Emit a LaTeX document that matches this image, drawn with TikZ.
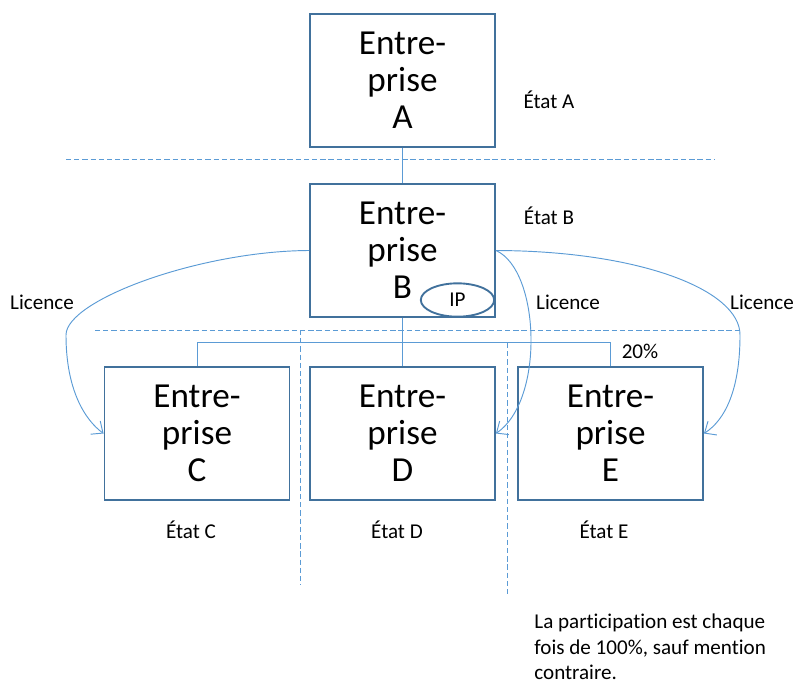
\documentclass[tikz,border=0pt]{standalone}
\usepackage{fontspec}
\setmainfont{Carlito}[Ligatures=NoCommon]
\definecolor{boxBlue}{RGB}{65, 113, 156}
\definecolor{lineBlue}{RGB}{91, 155, 213}
\usepackage{tikz}
\usetikzlibrary{shapes,arrows,positioning,calc,shapes.geometric,arrows.meta}

\begin{document}
\begin{tikzpicture}[
                x=0.03cm,y=-0.03cm,
                firm/.style={draw=boxBlue,line width=1.6pt,minimum width=5.55cm,minimum height=3.99cm,
                           font=\fontsize{30}{31.5}\selectfont,align=center,inner sep=0pt},
                etat/.style={font=\fontsize{18}{21.5}\selectfont,inner sep=1pt},
                link/.style={draw=lineBlue,line width=0.8pt},
                licence/.style={draw=lineBlue,line width=0.8pt,-{Straight Barb[length=8pt,width=14pt]}},
                sep/.style={draw=lineBlue,line width=0.8pt,dash pattern=on 4.5pt off 2.5pt}
            ]
                \useasboundingbox (0,0) rectangle (795,684);
                % borders between states
                \draw[sep] (66,159) -- (714,159);
                \draw[sep] (95,330) -- (740,330);
                \draw[sep] (300,330) -- (300,585);
                \draw[sep] (507,343) -- (507,597);
                % companies
                \node[firm] (A) at (402.5,80.5) {Entre-\\prise\\A};
                \node[firm] (B) at (402.5,250.5) {Entre-\\prise\\B};
                \node[firm] (C) at (197,433.5) {Entre-\\prise\\C};
                \node[firm] (D) at (402.5,433.5) {Entre-\\prise\\D};
                \node[firm] (E) at (610.5,433.5) {Entre-\\prise\\E};
                \node[ellipse,draw=boxBlue,line width=1.6pt,minimum width=2.2cm,minimum height=1cm,
                      inner sep=0pt,font=\fontsize{18}{20.4}\selectfont] (ip) at (457.5,300) {IP};
                % states
                \node[etat] (etatA) at (549,100) {État A};
                \node[etat] (etatB) at (549,216) {État B};
                \node[etat] (etatC) at (191,530) {État C};
                \node[etat] (etatD) at (397,530) {État D};
                \node[etat] (etatE) at (604,530) {État E};
                % holdings
                \coordinate (fork) at (402.5,342);
                \draw[link] (A.south) -- (B.north);
                \draw[link] (B.south) -- (D.north);
                \draw[link] (fork) -| (C.north);
                \draw[link] (fork) -| (E.north);
                \node[etat] (part) at (640,351) {20\%};
                % licences
                \draw[licence] (B.west) .. controls (200,251) and (66,300) .. (66,335)
                               .. controls (66,390) and (85,420) .. (C.west);
                \draw[licence] (B.east) .. controls (540,270) and (545,400) .. (D.east);
                \draw[licence] (B.east) .. controls (640,251) and (740,290) .. (740,335)
                               .. controls (740,390) and (725,420) .. (E.east);
                \node[etat] (licC) at (42,302) {Licence};
                \node[etat] (licD) at (568,302) {Licence};
                \node[etat] (licE) at (762,302) {Licence};
                \node[etat,anchor=north west,align=left,inner ysep=0pt] (note) at (533,614)
                    {La participation est chaque\\fois de 100\%, sauf mention\\contraire.};
            \end{tikzpicture}
\end{document}
